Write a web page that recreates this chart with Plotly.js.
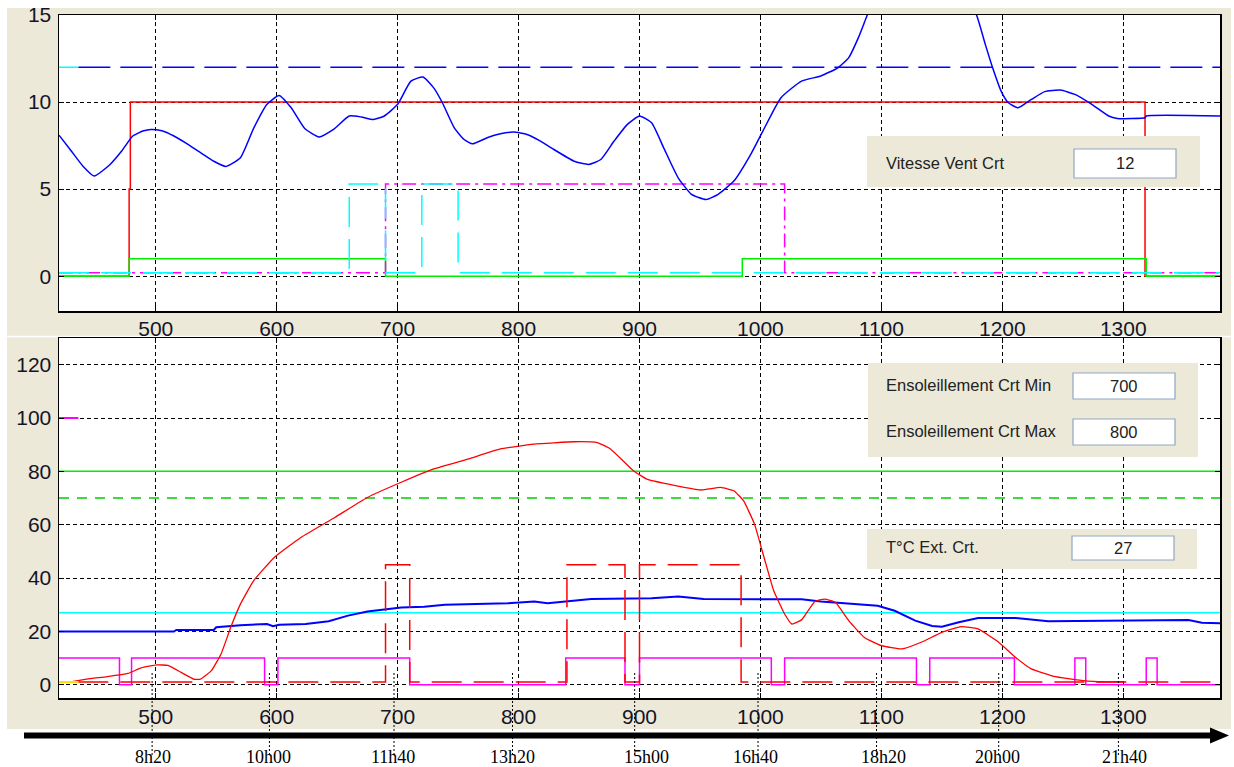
<!DOCTYPE html>
<html>
<head>
<meta charset="utf-8">
<script src="https://cdn.plot.ly/plotly-3.0.1.min.js"></script>
<style>html,body{margin:0;padding:0;background:#fff;}#chart{width:1234px;height:767px;}</style>
</head>
<body>
<div id="chart"></div>
<script>
// ---------- DATA (x = minutes of day) ----------
// Top panel (wind)
var windX = [420, 430, 440, 449, 462, 472, 481, 490, 496, 505, 515, 526, 537, 548, 558, 570, 581, 592, 602, 612, 623, 635, 647, 660, 670, 680, 689, 700, 711, 721, 730, 737, 747, 755, 762, 774, 785, 796, 807, 817, 827, 846, 858, 868, 879, 890, 900, 910, 920, 932, 943, 955, 965, 978, 992, 1002, 1017, 1034, 1050, 1064, 1073, 1081, 1088, 1100, 1130, 1160, 1179, 1186, 1192, 1199, 1205, 1213, 1224, 1235, 1248, 1260, 1274, 1288, 1295, 1318, 1319, 1380];
var windY = [8.1, 7.2, 6.3, 5.75, 6.4, 7.2, 8.05, 8.35, 8.43, 8.35, 8.05, 7.6, 7.1, 6.6, 6.3, 6.8, 8.5, 9.87, 10.38, 9.67, 8.5, 8.0, 8.43, 9.2, 9.14, 9.0, 9.2, 9.87, 11.2, 11.44, 10.8, 9.96, 8.5, 7.85, 7.6, 7.95, 8.18, 8.28, 8.14, 7.8, 7.37, 6.6, 6.42, 6.7, 7.76, 8.72, 9.2, 8.81, 7.37, 5.65, 4.7, 4.4, 4.7, 5.46, 7.0, 8.33, 10.25, 11.2, 11.5, 11.97, 12.55, 13.7, 14.94, 17, 19, 18, 14.94, 13.3, 11.97, 10.63, 9.96, 9.67, 10.15, 10.6, 10.69, 10.44, 9.87, 9.2, 9.06, 9.1, 9.2, 9.2];
var windThrX = [436, 1380];
var windThrY = [12, 12];
var windThrStubX = [420, 436];
var windThrStubY = [12, 12];
var redTopX = [420, 478, 479, 1318, 1380];
var redTopY = [0, 5, 10, 0, 0];
var greenTopX = [420, 478, 690, 985, 1319, 1380];
var greenTopY = [0, 1, 0, 1, 0, 0];
var magTopX = [420, 690, 1020, 1380];
var magTopY = [0.2, 5.3, 0.2, 0.2];
var cyanTopX = [420, 660, 690, 720, 750, 1380];
var cyanTopY = [0.2, 5.3, 0.2, 5.3, 0.2, 0.2];

// Bottom panel (sun / temperature)
var sunX = [431, 443, 460, 477, 488, 501, 510, 521, 532, 537, 546, 554, 562, 570, 581, 598, 620, 648, 675, 703, 730, 758, 785, 799, 813, 846, 865, 876, 895, 906, 923, 951, 967, 978, 986, 995, 1003, 1011, 1020, 1026, 1034, 1045, 1053, 1062, 1073, 1086, 1100, 1117, 1133, 1150, 1166, 1180, 1197, 1211, 1224, 1244, 1260, 1279, 1300];
var sunY = [1.1, 2.1, 3.0, 4.2, 6.3, 7.4, 7.2, 4.6, 2.0, 2.1, 5.25, 11.5, 21.5, 30.2, 39, 47.7, 55.2, 62.7, 70.2, 75.9, 80.9, 84.6, 88.4, 89.4, 90.2, 91.1, 90.8, 88.4, 80.2, 77.1, 75.3, 73.0, 74.0, 72.7, 69, 60.3, 47.7, 35.2, 26.5, 22.75, 24.3, 31.2, 32.1, 30.9, 24, 17.7, 14.6, 13.4, 15.9, 19.6, 21.75, 20.9, 15.9, 10.2, 5.9, 3.0, 1.9, 1.1, 1.1];
var tempX = [420, 515, 517, 548, 550, 570, 592, 597, 602, 624, 643, 659, 675, 689, 703, 722, 739, 791, 813, 824, 840, 860, 910, 932, 953, 1034, 1050, 1097, 1111, 1128, 1142, 1150, 1164, 1180, 1211, 1238, 1354, 1365, 1380];
var tempY = [19.9, 19.9, 20.5, 20.5, 21.5, 22.3, 22.75, 21.9, 22.5, 22.75, 23.75, 25.9, 27.4, 28.1, 28.9, 29.2, 30.0, 30.5, 31.2, 30.5, 31.2, 32.1, 32.4, 33.1, 32.1, 32.0, 31.2, 29.6, 27.7, 24.0, 22.0, 21.75, 23.4, 25.0, 25.0, 23.75, 24.25, 23.25, 23.0];
var magBotX = [420, 470, 480, 590, 601, 710, 839, 888, 900, 1009, 1020, 1129, 1140, 1210, 1260, 1269, 1319, 1328, 1380];
var magBotY = [10, 0, 10, 0, 10, 0, 10, 0, 10, 0, 10, 0, 10, 0, 10, 0, 10, 0, 0];
var redDashX = [436, 690, 710, 840, 888, 900, 984, 1380];
var redDashY = [1, 45, 1, 45, 1, 45, 1, 1];
var sunMaxX = [420, 1380], sunMaxY = [80, 80];
var sunMinX = [420, 1380], sunMinY = [70, 70];
var tExtX = [420, 1380], tExtY = [27, 27];
var magStubX = [420, 436], magStubY = [100, 100];
var yelStubX = [420, 436], yelStubY = [1, 1];

// Time scale below the chart
var timeLabels = ['8h20', '10h00', '11h40', '13h20', '15h00', '16h40', '18h20', '20h00', '21h40'];
var timeMarkX = [497, 594, 697, 795, 896, 998, 1096, 1197, 1296];
var timeLabelX = [498, 593, 696, 795, 906, 996, 1102, 1196, 1301];

// Control boxes
var ctrlLabels = ['Vitesse Vent Crt', 'Ensoleillement Crt Min', 'Ensoleillement Crt Max', 'T°C Ext. Crt.'];
var ctrlValues = ['12', '700', '800', '27'];

// ---------- helpers ----------
var W = 1234, H = 767;
function px(x) { return x / W; }
function py(y) { return 1 - y / H; }

function ln(x, y, color, dash, xa, ya, w, shape) {
  return { x: x, y: y, xaxis: xa, yaxis: ya, type: 'scatter', mode: 'lines', hoverinfo: 'skip',
    line: { color: color, width: w || 1.5, dash: dash || 'solid', shape: shape || 'linear' } };
}

var traces = [
  // top
  ln(windThrX, windThrY, '#0000FF', '32px,10px', 'x', 'y'),
  ln(windThrStubX, windThrStubY, '#00FFFF', 'solid', 'x', 'y'),
  ln(redTopX, redTopY, '#FF0000', 'solid', 'x', 'y', 1.5, 'hv'),
  ln(greenTopX, greenTopY, '#00EE00', 'solid', 'x', 'y', 1.5, 'hv'),
  ln(magTopX, magTopY, '#FF00FF', '14px,5px,3px,5px', 'x', 'y', 1.5, 'hv'),
  ln(cyanTopX, cyanTopY, '#00FFFF', '30px,12px', 'x', 'y', 1.5, 'hv'),
  { x: windX, y: windY, xaxis: 'x', yaxis: 'y', type: 'scatter', mode: 'lines', hoverinfo: 'skip',
    line: { color: '#0000FF', width: 1.5, shape: 'spline', smoothing: 0.5 } },
  // bottom
  ln(sunMaxX, sunMaxY, '#00EE00', 'solid', 'x2', 'y2'),
  ln(sunMinX, sunMinY, '#00CC00', '10px,8px', 'x2', 'y2'),
  ln(tExtX, tExtY, '#00FFFF', 'solid', 'x2', 'y2'),
  ln(tempX, tempY, '#0000FF', 'solid', 'x2', 'y2', 2),
  ln(magBotX, magBotY, '#FF00FF', 'solid', 'x2', 'y2', 1.5, 'hv'),
  ln(redDashX, redDashY, '#FF0000', '30px,12px', 'x2', 'y2', 1.5, 'hv'),
  { x: sunX, y: sunY, xaxis: 'x2', yaxis: 'y2', type: 'scatter', mode: 'lines', hoverinfo: 'skip',
    line: { color: '#FF0000', width: 1.3, shape: 'spline', smoothing: 0.4 } },
  ln(magStubX, magStubY, '#FF00FF', 'solid', 'x2', 'y2', 2),
  ln(yelStubX, yelStubY, '#FFE000', 'solid', 'x2', 'y2', 2)
];

var tickFont = { family: 'Liberation Sans, Arial, sans-serif', size: 21, color: '#141428' };
var axCommon = {
  showline: true, linecolor: '#000', linewidth: 1.5, mirror: 'allticks',
  ticks: 'inside', ticklen: 5, tickwidth: 1, tickcolor: '#000',
  showgrid: true, gridcolor: '#000', gridwidth: 1, griddash: '4px,3px',
  zeroline: false, tickfont: tickFont, fixedrange: true
};
function ax(extra) { return Object.assign({}, axCommon, extra); }

var xDom = [px(59), px(1220)];
var layout = {
  width: W, height: H,
  margin: { l: 0, r: 0, t: 0, b: 0 },
  paper_bgcolor: '#fff', plot_bgcolor: '#fff',
  showlegend: false,
  xaxis: ax({ domain: xDom, anchor: 'y', range: [420, 1380], tickvals: [500, 600, 700, 800, 900, 1000, 1100, 1200, 1300], ticklabelstandoff: -2 }),
  yaxis: ax({ domain: [py(311), py(15)], anchor: 'x', range: [-2, 15], tickvals: [0, 5, 10, 15], ticklabelstandoff: 2 }),
  xaxis2: ax({ domain: xDom, anchor: 'y2', range: [420, 1380], tickvals: [500, 600, 700, 800, 900, 1000, 1100, 1200, 1300], ticklabelstandoff: -1 }),
  yaxis2: ax({ domain: [py(698), py(338)], anchor: 'x2', range: [-5, 130], tickvals: [0, 20, 40, 60, 80, 100, 120], ticklabelstandoff: 2 }),
  shapes: [],
  annotations: []
};

// grey window background
layout.shapes.push({ type: 'rect', xref: 'paper', yref: 'paper', layer: 'below',
  x0: px(7), x1: px(1231), y0: py(729), y1: py(8), fillcolor: '#ECE9D8', line: { width: 0 } });
layout.shapes.push({ type: 'line', xref: 'paper', yref: 'paper', layer: 'below',
  x0: px(7), x1: px(1231), y0: py(336.5), y1: py(336.5), line: { color: '#fff', width: 1.5 } });
// white plot areas
layout.shapes.push({ type: 'rect', xref: 'paper', yref: 'paper', layer: 'below',
  x0: xDom[0], x1: xDom[1], y0: py(311), y1: py(15), fillcolor: '#fff', line: { width: 0 } });
layout.shapes.push({ type: 'rect', xref: 'paper', yref: 'paper', layer: 'below',
  x0: xDom[0], x1: xDom[1], y0: py(698), y1: py(338), fillcolor: '#fff', line: { width: 0 } });
// white band above the window (clips top tick label)
layout.shapes.push({ type: 'rect', xref: 'paper', yref: 'paper', layer: 'above',
  x0: 0, x1: 1, y0: py(8), y1: 1, fillcolor: '#fff', line: { width: 0 } });

// control boxes
var boxFont = { family: 'Liberation Sans, Arial, sans-serif', size: 16.5, color: '#222' };
function greyBox(x0, y0, x1, y1) {
  layout.shapes.push({ type: 'rect', xref: 'paper', yref: 'paper', layer: 'above',
    x0: px(x0), x1: px(x1), y0: py(y1), y1: py(y0), fillcolor: '#ECE9D8', line: { width: 0 } });
}
function inputBox(x0, y0, x1, y1, label, value, lx) {
  layout.shapes.push({ type: 'rect', xref: 'paper', yref: 'paper', layer: 'above',
    x0: px(x0), x1: px(x1), y0: py(y1), y1: py(y0), fillcolor: '#fff', line: { color: '#8FA7C4', width: 1.2 } });
  var cy = (y0 + y1) / 2;
  layout.annotations.push({ xref: 'paper', yref: 'paper', x: px(lx), y: py(cy - 1), xanchor: 'left', yanchor: 'middle',
    text: label, showarrow: false, font: boxFont });
  layout.annotations.push({ xref: 'paper', yref: 'paper', x: px((x0 + x1) / 2), y: py(cy), xanchor: 'center', yanchor: 'middle',
    text: value, showarrow: false, font: boxFont });
}
greyBox(867, 136, 1200, 187);
inputBox(1074, 149, 1176, 178, ctrlLabels[0], ctrlValues[0], 884);
greyBox(868, 363, 1198, 457);
inputBox(1073, 373, 1175, 399, ctrlLabels[1], ctrlValues[1], 884);
inputBox(1073, 419, 1175, 445, ctrlLabels[2], ctrlValues[2], 884);
greyBox(867, 529, 1197, 569);
inputBox(1072, 536, 1174, 560, ctrlLabels[3], ctrlValues[3], 884);

// time arrow
layout.shapes.push({ type: 'line', xref: 'paper', yref: 'paper', layer: 'above',
  x0: px(24), x1: px(1213), y0: py(735.5), y1: py(735.5), line: { color: '#000', width: 6 } });
layout.shapes.push({ type: 'path', xref: 'paper', yref: 'paper', layer: 'above',
  path: 'M ' + px(1210) + ' ' + py(727.5) + ' L ' + px(1229) + ' ' + py(735.5) + ' L ' + px(1210) + ' ' + py(743.5) + ' Z',
  fillcolor: '#000', line: { width: 0 } });

// time marks and labels
for (var i = 0; i < timeLabels.length; i++) {
  layout.shapes.push({ type: 'line', xref: 'x2', yref: 'paper', layer: 'above',
    x0: timeMarkX[i], x1: timeMarkX[i], y0: py(673), y1: py(756),
    line: { color: '#000', width: 1, dash: '2px,2px' } });
  layout.annotations.push({ xref: 'x2', yref: 'paper', x: timeLabelX[i], y: py(757), xanchor: 'center', yanchor: 'middle',
    text: timeLabels[i], showarrow: false, font: { family: 'Liberation Serif, Times New Roman, serif', size: 18, color: '#000' } });
}

Plotly.newPlot('chart', traces, layout, { staticPlot: true, displayModeBar: false });
</script>
</body>
</html>
